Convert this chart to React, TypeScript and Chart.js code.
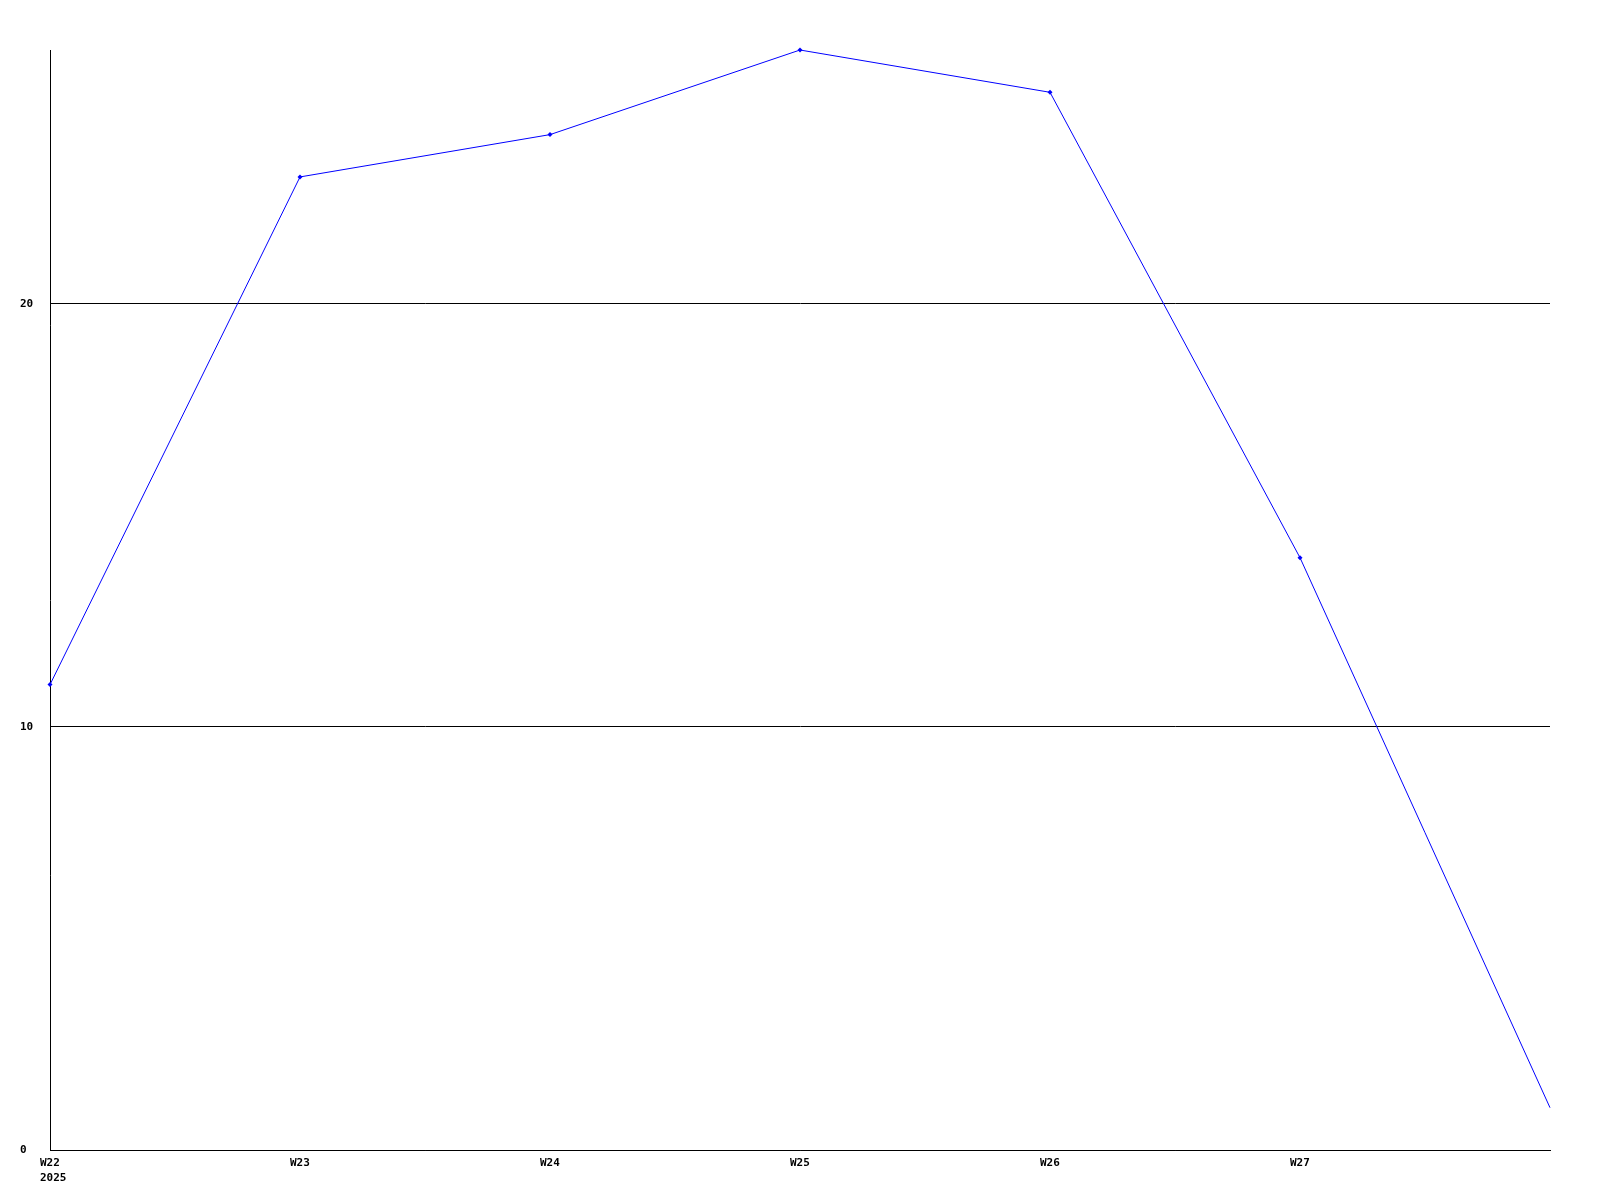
import React, { useEffect, useRef } from "react";
import { Chart, registerables } from "chart.js";

Chart.register(...registerables);

const weekLabels: string[] = ["W22", "W23", "W24", "W25", "W26", "W27", "W28"];
const yearLabel = "2025";
const values: number[] = [11, 23, 24, 26, 25, 14, 1];
const yTicks: number[] = [0, 10, 20];
const xTickCount = 6; // labelled ticks W22..W27

export default function App() {
  const ref = useRef<HTMLCanvasElement | null>(null);

  useEffect(() => {
    if (!ref.current) return;
    const font = { family: "'DejaVu Sans Mono', monospace", size: 11, weight: "bold" as const };
    const chart = new Chart(ref.current, {
      type: "line",
      data: {
        datasets: [
          {
            data: values.map((v, i) => ({ x: i, y: v })),
            borderColor: "#0000ff",
            backgroundColor: "#0000ff",
            borderWidth: 1,
            pointStyle: "rectRot",
            pointRadius: values.map((_, i) => (i === values.length - 1 ? 0 : 2.5)),
            pointBorderWidth: 0,
            tension: 0,
            fill: false,
            clip: false,
          },
        ],
      },
      options: {
        animation: false,
        responsive: false,
        events: [],
        layout: { padding: { left: 20, top: 50, right: 50, bottom: 0 } },
        plugins: { legend: { display: false }, tooltip: { enabled: false } },
        scales: {
          x: {
            type: "linear",
            min: 0,
            max: weekLabels.length - 1,
            afterBuildTicks: (scale: any) => {
              scale.ticks = Array.from({ length: xTickCount }, (_, i) => ({ value: i }));
            },
            afterFit: (scale: any) => {
              scale.height = 50;
            },
            grid: { display: false, drawTicks: false },
            border: { display: true, color: "#000000", width: 1 },
            ticks: {
              color: "#000000",
              font: { ...font, lineHeight: 1.35 },
              padding: 6,
              align: "start",
              labelOffset: -10,
              maxRotation: 0,
              autoSkip: false,
              callback: (v: any) => {
                const i = Math.round(Number(v));
                return i === 0 ? [weekLabels[i], yearLabel] : weekLabels[i];
              },
            },
          },
          y: {
            type: "linear",
            min: 0,
            max: 26,
            afterBuildTicks: (scale: any) => {
              scale.ticks = yTicks.map((v) => ({ value: v }));
            },
            afterFit: (scale: any) => {
              scale.width = 30;
            },
            grid: { display: true, color: "#000000", lineWidth: 1, drawTicks: false },
            border: { display: true, color: "#000000", width: 1 },
            ticks: {
              color: "#000000",
              font,
              padding: 0,
              crossAlign: "far",
            },
          },
        },
      },
    } as any);
    return () => chart.destroy();
  }, []);

  return (
    <div style={{ position: "absolute", left: 0, top: 0, width: 1600, height: 1200, background: "#ffffff" }}>
      <canvas ref={ref} width={1600} height={1200} style={{ width: 1600, height: 1200, display: "block" }} />
    </div>
  );
}
